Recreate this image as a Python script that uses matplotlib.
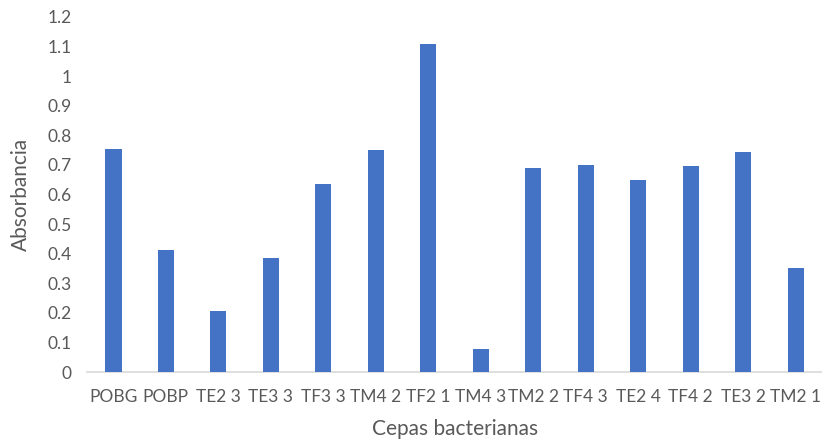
import matplotlib
matplotlib.use("Agg")
from matplotlib import pyplot as plt
import numpy as np

# datos
cepas = ["POBG", "POBP", "TE2 3", "TE3 3", "TF3 3", "TM4 2", "TF2 1",
         "TM4 3", "TM2 2", "TF4 3", "TE2 4", "TF4 2", "TE3 2", "TM2 1"]
absorbancia = [0.755, 0.412, 0.206, 0.386, 0.635, 0.751, 1.108,
               0.078, 0.689, 0.700, 0.648, 0.697, 0.743, 0.352]
yticks = [0, 0.1, 0.2, 0.3, 0.4, 0.5, 0.6, 0.7, 0.8, 0.9, 1, 1.1, 1.2]
yticklabels = ["0", "0.1", "0.2", "0.3", "0.4", "0.5", "0.6", "0.7", "0.8", "0.9", "1", "1.1", "1.2"]

plt.rcParams['font.family'] = ['Lato', 'DejaVu Sans']
gris = "#595959"

fig = plt.figure(figsize=(8.22, 4.43), dpi=100)
ax = fig.add_axes([0.106, 0.160, 0.894, 0.802])

x = np.arange(len(cepas))
ax.bar(x, absorbancia, width=0.31, color="#4472C4", zorder=3)

ax.set_xlim(-0.5, len(cepas) - 0.5)
ax.set_ylim(0, 1.2)
ax.set_yticks(yticks)
ax.set_yticklabels(yticklabels)
ax.set_xticks(x)
ax.set_xticklabels(cepas)

for s in ["top", "right", "left"]:
    ax.spines[s].set_visible(False)
ax.spines["bottom"].set_color("#D9D9D9")
ax.spines["bottom"].set_linewidth(1.2)

ax.tick_params(axis="both", length=0, labelsize=12.5, colors=gris)
ax.tick_params(axis="y", pad=11)
ax.tick_params(axis="x", pad=12)
for lab in ax.get_yticklabels():
    lab.set_horizontalalignment("right")

ax.set_ylabel("Absorbancia", fontsize=15, color=gris, labelpad=12)
ax.set_xlabel("Cepas bacterianas", fontsize=15, color=gris, labelpad=10)

fig.savefig("out.png", dpi=100)
